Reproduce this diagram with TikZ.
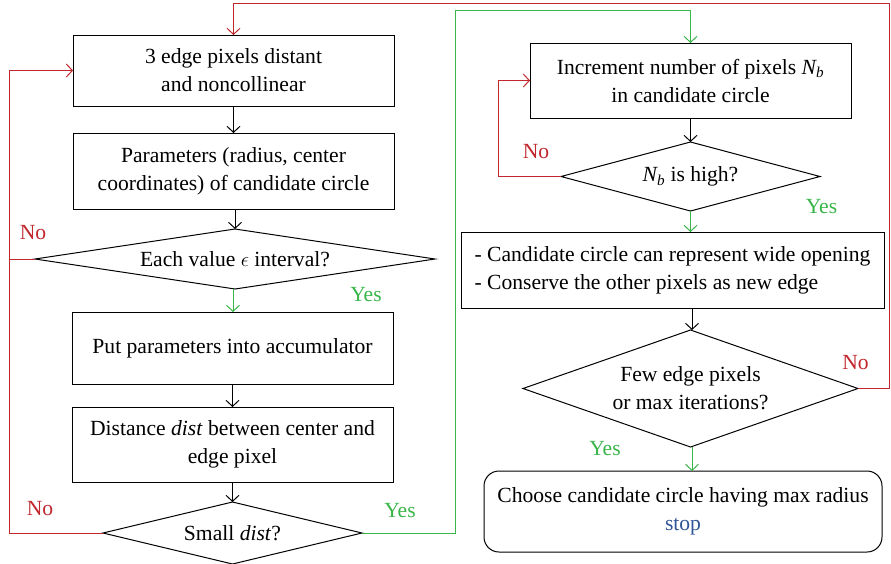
\documentclass[tikz,border=0pt]{standalone}
\usepackage{fontspec}
\setmainfont{Liberation Serif}
\usetikzlibrary{arrows.meta,shapes.geometric}
\definecolor{cred}{RGB}{193,39,45}
\definecolor{cgreen}{RGB}{57,181,74}
\definecolor{cblue}{RGB}{46,85,151}
\begin{document}
\begin{tikzpicture}[x=1pt,y=-1pt,
  font=\fontsize{21.6}{28}\selectfont,
  every node/.style={inner sep=0pt,outer sep=0pt},
  procbox/.style={draw,line width=1pt,align=center},
  decision/.style={draw,line width=1pt,diamond,align=center},
  flow/.style={line width=1pt,-{Straight Barb[length=6pt,width=13pt,line width=1pt]}},
  nolab/.style={text=cred},
  yeslab/.style={text=cgreen}]
\useasboundingbox (0,0) rectangle (891,563);
% left column
\node[procbox,minimum width=321,minimum height=71] (b1) at (233.5,70.5) {3 edge pixels distant\\and noncollinear};
\node[procbox,minimum width=321,minimum height=76] (b2) at (233.5,171) {Parameters (radius, center\\coordinates) of candidate circle};
\node[decision,minimum width=400,minimum height=60,aspect=6.67] (d1) at (235,259) {Each value $\epsilon$ interval?};
\node[procbox,minimum width=321,minimum height=72] (b3) at (232.5,348) {Put parameters into accumulator};
\node[procbox,minimum width=321,minimum height=75] (b4) at (232.5,444.5) {Distance \textit{dist} between center and\\edge pixel};
\node[decision,minimum width=259,minimum height=62,aspect=4.18] (d2) at (232.5,533) {Small \textit{dist}?};
% right column
\node[procbox,minimum width=321,minimum height=75] (b5) at (690.5,80.5) {Increment number of pixels \textit{N\textsubscript{b}}\\in candidate circle};
\node[decision,minimum width=259,minimum height=69,aspect=3.75] (d3) at (690.5,176.5) {\textit{N\textsubscript{b}} is high?};
\node[procbox,minimum width=423,minimum height=76,align=left] (b6) at (672.5,270) {- Candidate circle can represent wide opening\\- Conserve the other pixels as new edge};
\node[decision,minimum width=335,minimum height=117,aspect=2.86] (d4) at (690.5,388.5) {Few edge pixels\\or max iterations?};
\node[procbox,minimum width=398,minimum height=81,rounded corners=15pt] (b7) at (683,511.5) {Choose candidate circle having max radius\\\textcolor{cblue}{stop}};
% corner coordinates
\coordinate (lc) at (9,70.5);
\coordinate (rc) at (889,3);
\coordinate (gc) at (455,10);
\coordinate (nc) at (498,80.5);
% black flows
\draw[flow] (b1.south) -- (b1.south |- b2.north);
\draw[flow] (b2.south) -- (b2.south -| d1.north) -- (d1.north);
\draw[flow] (b3.south) -- (b3.south |- b4.north);
\draw[flow] (b4.south) -- (d2.north);
\draw[flow] (b5.south) -- (d3.north);
\draw[flow] (b6.south -| 692,0) -- (692,0 |- d4.north);
% green flows
\draw[flow,cgreen] (d1.south -| 233,0) -- (233,0 |- b3.north);
\draw[flow,cgreen] (d3.south) -- (d3.south |- b6.north);
\draw[flow,cgreen] (692,0 |- d4.south) -- (692,0 |- b7.north);
\draw[flow,cgreen] (d2.east) -| (gc) -| (b5.north);
% red flows
\draw[flow,cred] (d2.west) -| (lc) -- (b1.west);
\draw[line width=1pt,cred] (d1.west) -- (d1.west -| lc);
\draw[flow,cred] (d3.west) -| (nc) -- (b5.west);
\draw[flow,cred] (d4.east) -| (rc) -| (b1.north);
% labels
\node[nolab] (l1) at (33,233) {No};
\node[yeslab] (l2) at (366,295) {Yes};
\node[nolab] (l3) at (40,509) {No};
\node[yeslab] (l4) at (400,511) {Yes};
\node[nolab] (l5) at (536,152) {No};
\node[yeslab] (l6) at (821.5,207) {Yes};
\node[nolab] (l7) at (855.5,363) {No};
\node[yeslab] (l8) at (605,449) {Yes};
\end{tikzpicture}
\end{document}
